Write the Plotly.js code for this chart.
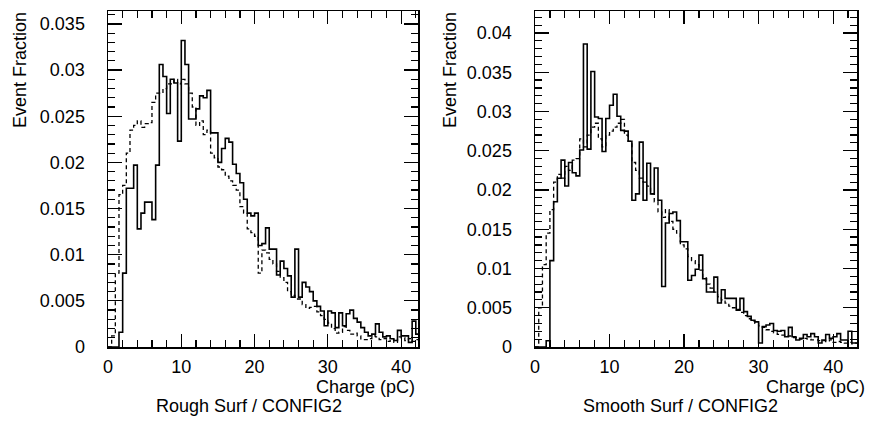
<!DOCTYPE html>
<html>
<head>
<meta charset="utf-8">
<script src="https://cdn.plot.ly/plotly-3.0.1.min.js"></script>
<style>html,body{margin:0;padding:0;background:#fff;}#chart{width:872px;height:426px;}</style>
</head>
<body>
<div id="chart"></div>
<script>
const binWidth = 0.5;
const xTickVals = [0, 10, 20, 30, 40];
const panelTitles = ["Rough Surf / CONFIG2", "Smooth Surf / CONFIG2"];
const xLabel = "Charge (pC)";
const yLabel = "Event Fraction";

const roughSolid = [
 0, 0, 0, 0.0016, 0.008, 0.0172, 0.0172, 0.0197, 0.0128, 0.0145,
 0.0157, 0.0157, 0.0138, 0.0197, 0.0306, 0.0293, 0.0253, 0.029, 0.0286, 0.0223,
 0.0332, 0.0306, 0.0247, 0.0247, 0.0258, 0.0272, 0.027, 0.0278, 0.0232, 0.0232,
 0.020, 0.0215, 0.0226, 0.0222, 0.0198, 0.0188, 0.0178, 0.0160, 0.0145, 0.0142,
 0.0145, 0.011, 0.0112, 0.0129, 0.0106, 0.0106, 0.0078, 0.0093, 0.0085, 0.0077,
 0.0054, 0.0106, 0.0054, 0.007, 0.0065, 0.006, 0.005, 0.0044, 0.0039, 0.0023,
 0.0039, 0.0037, 0.0021, 0.0037, 0.0023, 0.0036, 0.004, 0.0031, 0.0027, 0.0021,
 0.0016, 0.0012, 0.0014, 0.0025, 0.0016, 0.0011, 0.0012, 0.0009, 0.0007, 0.0018,
 0.0012, 0.0012, 0.0005, 0.0028, 0.0014
];
const roughDashed = [
 0, 0.0012, 0.008, 0.0165, 0.0175, 0.021, 0.0235, 0.024, 0.0245, 0.0238,
 0.0242, 0.0243, 0.0265, 0.0275, 0.0275, 0.028, 0.0285, 0.0285, 0.029, 0.0285,
 0.029, 0.0285, 0.0275, 0.026, 0.024, 0.0245, 0.023, 0.0235, 0.021, 0.0205,
 0.0195, 0.0192, 0.0185, 0.018, 0.0175, 0.017, 0.0152, 0.0145, 0.0128, 0.0124,
 0.012, 0.008, 0.0105, 0.0102, 0.0095, 0.009, 0.0082, 0.0075, 0.007, 0.006,
 0.0056, 0.0052, 0.0052, 0.0046, 0.0042, 0.0043, 0.0044, 0.0038, 0.0034, 0.003,
 0.0026, 0.002, 0.0015, 0.0016, 0.0022, 0.0018, 0.0014, 0.0015, 0.0012, 0.0008,
 0.0008, 0.0009, 0.0012, 0.0011, 0.0008, 0.0009, 0.0006, 0.0008, 0.0005, 0.0011,
 0.001, 0.0007, 0.0009, 0.0006, 0.0008
];
const smoothSolid = [
 0, 0, 0, 0.0008, 0.011, 0.0185, 0.0215, 0.0238, 0.0205, 0.0235,
 0.0222, 0.0218, 0.0251, 0.0386, 0.0252, 0.0351, 0.0293, 0.0291, 0.0249, 0.0291,
 0.0308, 0.0322, 0.0294, 0.0276, 0.0275, 0.0262, 0.0187, 0.0195, 0.0261, 0.0187,
 0.0234, 0.0195, 0.0228, 0.0187, 0.0077, 0.0158, 0.017, 0.0172, 0.0161, 0.0134,
 0.0134, 0.0085, 0.0091, 0.0099, 0.0117, 0.0087, 0.007, 0.007, 0.0089, 0.0056,
 0.0073, 0.0062, 0.0062, 0.0062, 0.0047, 0.0062, 0.0045, 0.0039, 0.0034, 0.0032,
 0.0005, 0.0026, 0.0028, 0.003, 0.0021, 0.002, 0.0021, 0.0013, 0.0025, 0.0013,
 0.0009, 0.0011, 0.0016, 0.0013, 0.0017, 0.0013, 0.0005, 0.0009, 0.0016, 0.0011,
 0.0013, 0.0017, 0.0009, 0.0009, 0.002, 0.0005, 0.0005
];
const smoothDashed = [
 0, 0.005, 0.0105, 0.0145, 0.0175, 0.021, 0.022, 0.0215, 0.023, 0.0225,
 0.0238, 0.024, 0.0265, 0.0255, 0.027, 0.028, 0.0285, 0.0265, 0.0255, 0.027,
 0.0275, 0.028, 0.0285, 0.029, 0.027, 0.0262, 0.0235, 0.0225, 0.0215, 0.021,
 0.0205, 0.0195, 0.0185, 0.0172, 0.0165, 0.0175, 0.016, 0.015, 0.0145, 0.013,
 0.0125, 0.0115, 0.011, 0.0105, 0.0098, 0.0088, 0.008, 0.0075, 0.007, 0.0064,
 0.006, 0.0056, 0.0052, 0.005, 0.0048, 0.0044, 0.004, 0.0036, 0.0033, 0.003,
 0.0027, 0.0025, 0.0022, 0.002, 0.0018, 0.0016, 0.0015, 0.0014, 0.0014, 0.0012,
 0.0012, 0.001, 0.0011, 0.001, 0.0009, 0.0009, 0.0008, 0.0008, 0.0007, 0.0009,
 0.0006, 0.0007, 0.0006, 0.0005, 0.0006, 0.0004, 0.0005
];

function steps(vals) {
  const x = [], y = [];
  for (let i = 0; i < vals.length; i++) { x.push(i * binWidth); y.push(vals[i]); }
  x.push(vals.length * binWidth); y.push(vals[vals.length - 1]);
  return {x, y};
}
function trace(vals, dash, xa, ya, w) {
  const s = steps(vals);
  return {x: s.x, y: s.y, type: 'scatter', mode: 'lines', xaxis: xa, yaxis: ya,
    line: {shape: 'hv', color: '#000', width: w, dash: dash}, hoverinfo: 'skip', showlegend: false};
}

const data = [
  trace(roughDashed, '4px,3px', 'x', 'y', 1.3),
  trace(roughSolid, 'solid', 'x', 'y', 1.6),
  trace(smoothDashed, '4px,3px', 'x2', 'y2', 1.3),
  trace(smoothSolid, 'solid', 'x2', 'y2', 1.6)
];

const F = {family: 'Liberation Sans, Arial, sans-serif', size: 18, color: '#000'};
function xaxis(domain, range, anchor) {
  return {domain, range, anchor, tickvals: xTickVals, ticks: 'inside', ticklen: 13, tickwidth: 1.2,
    tickcolor: '#000', showline: true, linecolor: '#000', linewidth: 1.5, mirror: 'allticks',
    showgrid: false, zeroline: false, tickfont: F, ticklabelstandoff: 3,
    minor: {dtick: 2, ticks: 'inside', ticklen: 7, tickcolor: '#000', showgrid: false}};
}
function yaxis(domain, range, anchor) {
  return {domain, range, anchor, dtick: 0.005, tick0: 0, ticks: 'inside', ticklen: 14, tickwidth: 1.2,
    tickcolor: '#000', showline: true, linecolor: '#000', linewidth: 1.5, mirror: 'allticks',
    showgrid: false, zeroline: false, tickfont: F, ticklabelstandoff: 18,
    minor: {dtick: 0.001, ticks: 'inside', ticklen: 7, tickcolor: '#000', showgrid: false}};
}
const yDom = [79 / 426, 415 / 426];
const layout = {
  width: 872, height: 426, margin: {l: 0, r: 0, t: 0, b: 0},
  paper_bgcolor: '#fff', plot_bgcolor: '#fff', showlegend: false,
  xaxis: xaxis([108 / 872, 418 / 872], [0, 42.3], 'y'),
  yaxis: yaxis(yDom, [0, 0.0364], 'x'),
  xaxis2: xaxis([535 / 872, 857 / 872], [0, 43.2], 'y2'),
  yaxis2: yaxis(yDom, [0, 0.0428], 'x2'),
  annotations: [
    {text: xLabel, xref: 'paper', yref: 'paper', x: 417 / 872, y: 1 - 387 / 426, xanchor: 'right', yanchor: 'middle', showarrow: false, font: F},
    {text: xLabel, xref: 'paper', yref: 'paper', x: 867 / 872, y: 1 - 387 / 426, xanchor: 'right', yanchor: 'middle', showarrow: false, font: F},
    {text: panelTitles[0], xref: 'paper', yref: 'paper', x: 249 / 872, y: 1 - 406 / 426, xanchor: 'center', yanchor: 'middle', showarrow: false, font: F},
    {text: panelTitles[1], xref: 'paper', yref: 'paper', x: 680 / 872, y: 1 - 406 / 426, xanchor: 'center', yanchor: 'middle', showarrow: false, font: F},
    {text: yLabel, xref: 'paper', yref: 'paper', x: 20 / 872, y: 1 - 10 / 426, xanchor: 'center', yanchor: 'top', textangle: -90, showarrow: false, font: F},
    {text: yLabel, xref: 'paper', yref: 'paper', x: 450 / 872, y: 1 - 10 / 426, xanchor: 'center', yanchor: 'top', textangle: -90, showarrow: false, font: F}
  ]
};
Plotly.newPlot('chart', data, layout, {staticPlot: true, displayModeBar: false});
</script>
</body>
</html>
